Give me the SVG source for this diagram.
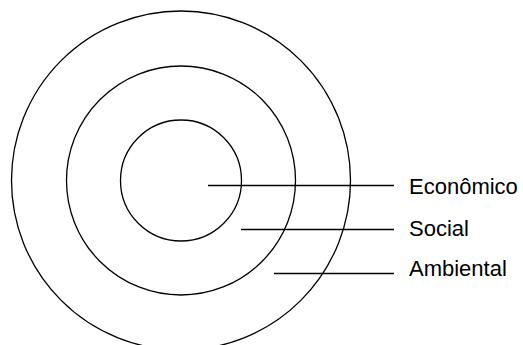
<svg xmlns="http://www.w3.org/2000/svg" width="523" height="345" viewBox="0 0 523 345">
<style>
.ring{fill:none;stroke:#000;stroke-width:1.3}
.lead{stroke:#000;stroke-width:1.3}
.lbl{font-family:"Liberation Sans",Arial,sans-serif;font-size:22px;fill:#000}
</style>
<rect width="523" height="345" fill="#fff"/>
<g id="ambiental"><circle class="ring" cx="181" cy="180.5" r="169.5"/></g>
<g id="social"><circle class="ring" cx="181" cy="180.5" r="114.5"/></g>
<g id="economico"><circle class="ring" cx="181" cy="180.5" r="60.5"/></g>
<g id="connectors">
<line class="lead" x1="208" y1="185.5" x2="394" y2="185.5"/>
<line class="lead" x1="241" y1="229.5" x2="394" y2="229.5"/>
<line class="lead" x1="274" y1="273.5" x2="394" y2="273.5"/>
</g>
<g id="labels">
<text class="lbl" x="409" y="194">Econômico</text>
<text class="lbl" x="409" y="236">Social</text>
<text class="lbl" x="409" y="276">Ambiental</text>
</g>
</svg>
